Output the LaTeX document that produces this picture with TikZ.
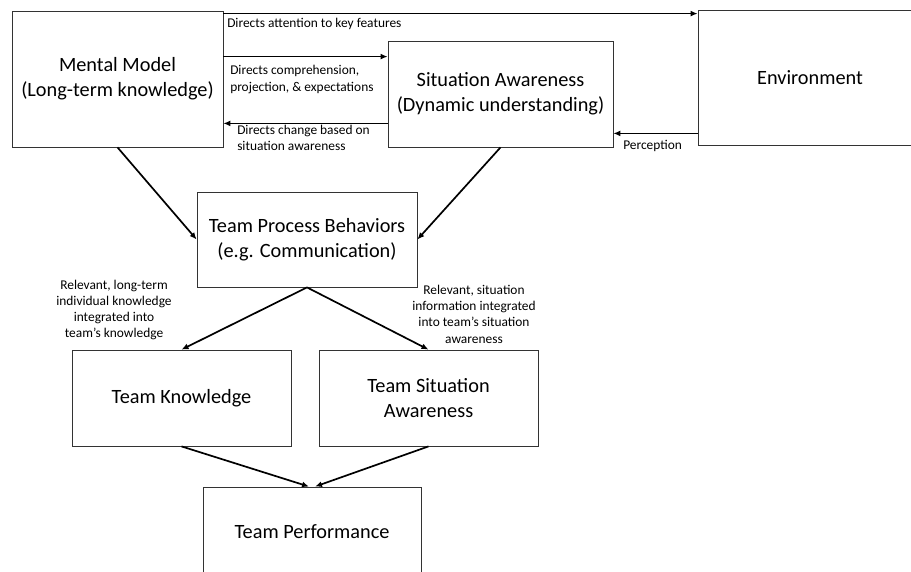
\documentclass[tikz,border=0pt]{standalone}
\usepackage{fontspec}
\setmainfont{Carlito}
\usetikzlibrary{arrows.meta}
\tikzset{
 box/.style = {draw=black!80, line width=0.8pt, align=center, inner sep=0pt,
  font=\fontsize{20.3}{25}\selectfont},
 flow/.style = {line width=1.7pt, -{Latex[length=7pt,width=6pt]}},
 lbl/.style = {align=left, inner sep=1pt, font=\fontsize{13.4}{16.3}\selectfont},
 lblc/.style = {lbl, align=center}
}
\begin{document}
\begin{tikzpicture}[x=1pt,y=-1pt]
    \useasboundingbox (0,0) rectangle (911,572);
    \clip (0,0) rectangle (911,572);

    \node[box, minimum width=211, minimum height=136] (mm) at (117.5,79) {Mental Model\\(Long-term knowledge)};
    \node[box, minimum width=225, minimum height=106] (sa) at (500.5,94) {Situation Awareness\\(Dynamic understanding)};
    \node[box, minimum width=224, minimum height=135] (env) at (810,77.5) {Environment};
    \node[box, minimum width=220, minimum height=95] (tpb) at (307,239.5) {Team Process Behaviors\\(e.g. Communication)};
    \node[box, minimum width=219, minimum height=96] (tk) at (181.5,398) {Team Knowledge};
    \node[box, minimum width=219, minimum height=96] (tsa) at (428.5,398) {Team Situation\\Awareness};
    \node[box, minimum width=218, minimum height=90] (tp) at (312,532) {Team Performance};

    \coordinate (top) at ([yshift=-4pt]env.north west);
    \coordinate (comp) at ([yshift=-16pt]sa.north west);
    \coordinate (back) at ([yshift=24pt]sa.south west);
    \coordinate (perc) at ([yshift=12pt]env.south west);

    \draw[flow] (top -| mm.east) -- node[lbl, pos=0, below right, xshift=2pt, yshift=-3pt] {Directs attention to key features} (top);
    \draw[flow] (comp -| mm.east) -- node[lbl, pos=0, below right, xshift=5pt, yshift=-7pt] {Directs comprehension,\\projection, \& expectations} (comp);
    \draw[flow] (back) -- node[lbl, pos=1, below right, xshift=12pt] {Directs change based on\\situation awareness} (back -| mm.east);
    \draw[flow] (perc) -- node[lbl, pos=1, below right, xshift=8pt, yshift=-5pt] {Perception} (perc -| sa.east);

    \draw[flow] (mm.south) -- (tpb.west);
    \draw[flow] (sa.south) -- (tpb.east);
    \draw[flow] (tpb.south) -- (tk.north);
    \draw[flow] (tpb.south) -- (tsa.north);
    \draw[flow] (tk.south) -- ([xshift=-3pt]tp.north);
    \draw[flow] (tsa.south) -- ([xshift=3pt]tp.north);

    \node[lblc] (kn) at (114,310) {Relevant, long-term\\individual knowledge\\integrated into\\team's knowledge};
    \node[lblc] (si) at (474,314) {Relevant, situation\\information integrated\\into team's situation\\awareness};
\end{tikzpicture}
\end{document}
